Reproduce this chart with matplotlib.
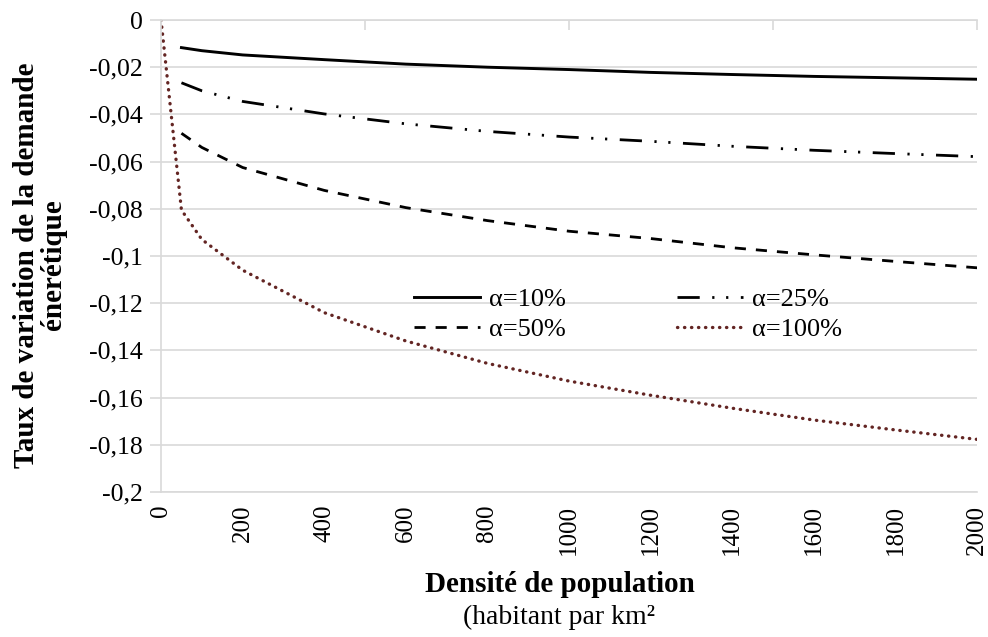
import numpy as np
import matplotlib
matplotlib.use('Agg')
import matplotlib.pyplot as plt

plt.rcParams['font.family'] = ['Liberation Serif', 'DejaVu Serif']

# ---- données ----
densite = [50, 100, 200, 400, 600, 800, 1000, 1200, 1400, 1600, 1800, 2000]
densite_100 = [0] + densite

alpha_10 = [-0.0117, -0.0130, -0.0148, -0.0168, -0.0187, -0.0200, -0.0210,
            -0.0222, -0.0231, -0.0239, -0.0245, -0.0251]
alpha_25 = [-0.0266, -0.0300, -0.0345, -0.0398, -0.0440, -0.0472, -0.0496,
            -0.0514, -0.0535, -0.0552, -0.0566, -0.0579]
alpha_50 = [-0.0480, -0.0540, -0.0625, -0.0722, -0.0795, -0.0850, -0.0895,
            -0.0926, -0.0965, -0.0995, -0.1023, -0.1050]
alpha_100 = [0.0, -0.0805, -0.0930, -0.1060, -0.1240, -0.1360, -0.1455,
             -0.1530, -0.1590, -0.1645, -0.1695, -0.1737, -0.1777]

x_ticks = list(range(0, 2001, 200))
y_ticks = [0, -0.02, -0.04, -0.06, -0.08, -0.1, -0.12, -0.14, -0.16, -0.18, -0.2]
y_labels = ['0', '-0,02', '-0,04', '-0,06', '-0,08', '-0,1', '-0,12',
            '-0,14', '-0,16', '-0,18', '-0,2']

GRIS = '#D9D9D9'
BRUN = '#632523'

fig = plt.figure(figsize=(9.88, 6.37), dpi=100)
ax = fig.add_axes([0.163, 0.2276, 0.826, 0.741])

l10, = ax.plot(densite, alpha_10, color='black', lw=2.1, label='α=10%')
l25, = ax.plot(densite, alpha_25, color='black', lw=2.0,
               linestyle=(0, (8, 4.5, 0.8, 4.2, 0.8, 4.5)), label='α=25%')
l50, = ax.plot(densite, alpha_50, color='black', lw=2.0,
               linestyle=(0, (4, 3.6)), label='α=50%')
l100, = ax.plot(densite_100, alpha_100, color=BRUN, lw=2.4,
                linestyle=(0, (0.1, 2.0)), dash_capstyle='round', label='α=100%')

ax.set_xlim(0, 2000)
ax.set_ylim(-0.2, 0)

ax.set_yticks(y_ticks)
ax.set_yticklabels(y_labels, fontsize=18.5)
ax.set_xticks(x_ticks)
ax.set_xticklabels([str(v) for v in x_ticks], fontsize=18, rotation=90)
ax.tick_params(axis='x', length=0, pad=9)
ax.tick_params(axis='y', length=8, color=GRIS, width=1.2, pad=5)

ax.grid(axis='y', color=GRIS, lw=1.2)
ax.set_axisbelow(True)
for side in ['left', 'top', 'bottom']:
    ax.spines[side].set_color(GRIS)
    ax.spines[side].set_linewidth(1.2)
ax.spines['right'].set_visible(False)

# axe horizontal (en haut, y=0) avec graduations tous les 500
top = ax.secondary_xaxis('top')
top.set_xticks([0, 500, 1000, 1500, 2000])
top.set_xticklabels([])
top.tick_params(direction='in', length=7, color=GRIS, width=1.2)
top.spines['top'].set_visible(False)

fig.text(0.0405, 0.584, 'Taux de variation de la demande\nénerétique',
         fontsize=21, fontweight='bold', rotation=90, ha='center',
         va='center', linespacing=1.0, multialignment='center')
fig.text(0.567, 0.083, 'Densité de population', fontsize=21,
         fontweight='bold', ha='center', va='center')
fig.text(0.566, 0.031, '(habitant par km²', fontsize=20,
         ha='center', va='center')

# ordre Excel : ligne 1 = 10 %, 25 % ; ligne 2 = 50 %, 100 %
ax.legend([l10, l50, l25, l100], ['α=10%', 'α=50%', 'α=25%', 'α=100%'],
          ncol=2, loc='center', bbox_to_anchor=(0.572, 0.376), frameon=False,
          fontsize=19, handlelength=2.5, columnspacing=4.2, labelspacing=0.25,
          handletextpad=0.35)

plt.savefig('out.png', dpi=100)
